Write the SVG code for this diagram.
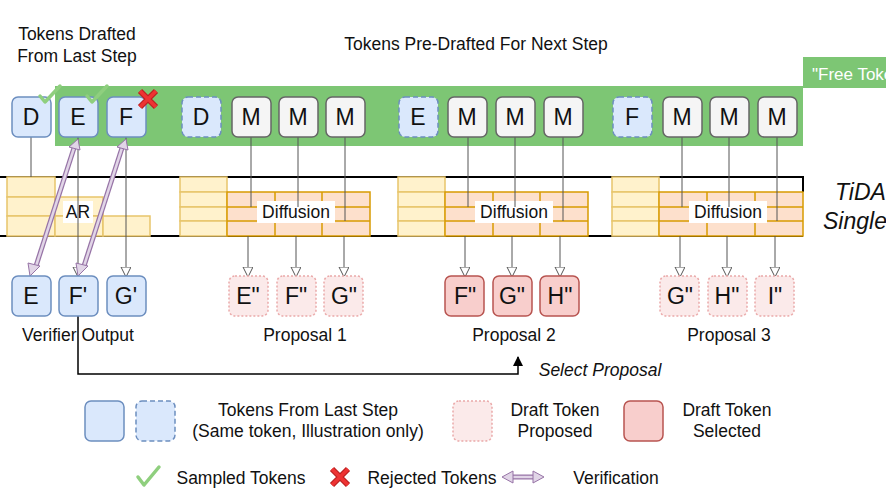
<svg xmlns="http://www.w3.org/2000/svg" width="886" height="499" viewBox="0 0 886 499">
<style>
text{font-family:"Liberation Sans",Arial,sans-serif;fill:#111;text-anchor:middle}
.n{font-size:23px}
.l{font-size:17.5px}
.blue{fill:#dae8fc;stroke:#6c8ebf;stroke-width:1.5}
.dash{fill:#dae8fc;stroke:#6c8ebf;stroke-width:1.5;stroke-dasharray:5 3}
.m{fill:#f5f5f5;stroke:#666;stroke-width:1.5}
.pp{fill:#fbeaea;stroke:#eaa9a9;stroke-width:1.5;stroke-dasharray:2 2}
.red{fill:#f8cecc;stroke:#b85450;stroke-width:1.5}
.y{fill:#fff2cc;stroke:#e8c56b;stroke-width:1.5}
.o{fill:#fde0cc;stroke:#d79b00;stroke-width:1.5}
.c{stroke:#555;stroke-width:1;fill:none}
.v{stroke:#9673a6;stroke-width:5;fill:none}
.vi{stroke:#e1d5e7;stroke-width:2.5;fill:none}
.ck{stroke:#8fcf7e;stroke-width:3.5;fill:none;stroke-linecap:round;stroke-linejoin:round}
</style>
<defs>
<marker id="ah" markerWidth="10" markerHeight="12" refX="9" refY="5" orient="auto" markerUnits="userSpaceOnUse"><path d="M0,0 L10,5 L0,10 Z" fill="#fff" stroke="#555"/></marker>
<marker id="af" markerWidth="10" markerHeight="10" refX="9" refY="5" orient="auto" markerUnits="userSpaceOnUse"><path d="M0,0 L10,5 L0,10 Z" fill="#000"/></marker>
</defs>
<rect width="886" height="499" fill="#fff"/>
<g id="band">
<rect x="55" y="86" width="748" height="60" fill="#7dc674"/>
<rect x="803" y="57" width="83" height="31" fill="#7dc674"/>
<text x="812" y="80" style="text-anchor:start;fill:#fff;font-size:17px">"Free Tokens"</text>
<line x1="0" y1="177" x2="803" y2="177" stroke="#000" stroke-width="2"/>
<line x1="803" y1="176" x2="803" y2="192" stroke="#000" stroke-width="2"/>
<line x1="0" y1="236" x2="803" y2="236" stroke="#000" stroke-width="2"/>
</g>
<g id="titles">
<text class="l" x="77" y="40">Tokens Drafted</text>
<text class="l" x="77" y="62">From Last Step</text>
<text class="l" x="476" y="50">Tokens Pre-Drafted For Next Step</text>
<text x="835" y="200" style="text-anchor:start;font-size:23px;font-style:italic">TiDAR</text>
<text x="823" y="229" style="text-anchor:start;font-size:23px;font-style:italic">Single</text>
</g>
<g id="ar">
<rect class="y" x="7" y="177" width="48" height="20"/><rect class="y" x="7" y="197" width="48" height="19"/><rect class="y" x="7" y="216" width="48" height="20"/>
<rect class="y" x="55" y="197" width="48" height="19"/><rect class="y" x="55" y="216" width="48" height="20"/>
<rect class="y" x="103" y="216" width="47" height="20"/>
<rect x="63" y="201" width="30" height="22" fill="#fff"/>
<text class="l" x="78" y="218">AR</text>
</g>
<g id="diff1"><g transform="translate(0,0)">
<rect class="y" x="180" y="177" width="47" height="15"/><rect class="y" x="180" y="192" width="47" height="15"/><rect class="y" x="180" y="207" width="47" height="14"/><rect class="y" x="180" y="221" width="47" height="15"/>
<rect class="o" x="227" y="192" width="143" height="44"/>
<path d="M227,207H370M227,221H370M275,192V236M322,192V236" stroke="#d79b00" stroke-width="1.5"/>
<rect x="257" y="201" width="78" height="22" fill="#fff"/>
<text class="l" x="296" y="218">Diffusion</text></g></g>
<g id="diff2"><g transform="translate(218,0)">
<rect class="y" x="180" y="177" width="47" height="15"/><rect class="y" x="180" y="192" width="47" height="15"/><rect class="y" x="180" y="207" width="47" height="14"/><rect class="y" x="180" y="221" width="47" height="15"/>
<rect class="o" x="227" y="192" width="143" height="44"/>
<path d="M227,207H370M227,221H370M275,192V236M322,192V236" stroke="#d79b00" stroke-width="1.5"/>
<rect x="257" y="201" width="78" height="22" fill="#fff"/>
<text class="l" x="296" y="218">Diffusion</text></g></g>
<g id="diff3"><g transform="translate(432,0)">
<rect class="y" x="180" y="177" width="47" height="15"/><rect class="y" x="180" y="192" width="47" height="15"/><rect class="y" x="180" y="207" width="47" height="14"/><rect class="y" x="180" y="221" width="47" height="15"/>
<rect class="o" x="227" y="192" width="144" height="44"/>
<path d="M227,207H371M227,221H371M275,192V236M323,192V236" stroke="#d79b00" stroke-width="1.5"/>
<rect x="257" y="201" width="78" height="22" fill="#fff"/>
<text class="l" x="296" y="218">Diffusion</text></g></g>
<g id="connectors">
<path class="c" d="M31,137V177"/>
<path class="c" d="M78,137V276" marker-end="url(#ah)"/>
<path class="c" d="M126,137V276" marker-end="url(#ah)"/>
<path class="c" d="M251,137V207M298,137V207M345,137V221"/>
<path class="c" d="M468,137V207M515,137V207M563,137V221"/>
<path class="c" d="M682,137V207M729,137V207M777,137V221"/>
<path class="c" d="M248,236V276" marker-end="url(#ah)"/><path class="c" d="M296,236V276" marker-end="url(#ah)"/><path class="c" d="M344,236V276" marker-end="url(#ah)"/>
<path class="c" d="M465,236V276" marker-end="url(#ah)"/><path class="c" d="M512,236V276" marker-end="url(#ah)"/><path class="c" d="M560,236V276" marker-end="url(#ah)"/>
<path class="c" d="M680,236V276" marker-end="url(#ah)"/><path class="c" d="M727,236V276" marker-end="url(#ah)"/><path class="c" d="M775,236V276" marker-end="url(#ah)"/>
<path d="M78,316V374H518V357" stroke="#000" stroke-width="1.5" fill="none" marker-end="url(#af)"/>
<line class="v" x1="36" y1="266" x2="74" y2="148"/><line class="vi" x1="36" y1="266" x2="74" y2="148"/>
<path d="M30,276l-2-13 12 3Z M78,139l-9 8 11 3Z" fill="#e1d5e7" stroke="#9673a6"/>
<line class="v" x1="84" y1="266" x2="122" y2="148"/><line class="vi" x1="84" y1="266" x2="122" y2="148"/>
<path d="M78,276l-2-13 12 3Z M126,139l-9 8 11 3Z" fill="#e1d5e7" stroke="#9673a6"/>
</g>
<g id="top-nodes">
<rect class="blue" x="12" y="97" width="39" height="40" rx="6"/><text class="n" x="31" y="125">D</text>
<rect class="blue" x="59" y="97" width="39" height="40" rx="6"/><text class="n" x="78" y="125">E</text>
<rect class="blue" x="107" y="97" width="39" height="40" rx="6"/><text class="n" x="126" y="125">F</text>
<rect class="dash" x="182" y="97" width="39" height="40" rx="6"/><text class="n" x="201" y="125">D</text>
<rect class="m" x="232" y="97" width="39" height="40" rx="6"/><text class="n" x="251" y="125">M</text>
<rect class="m" x="279" y="97" width="39" height="40" rx="6"/><text class="n" x="298" y="125">M</text>
<rect class="m" x="326" y="97" width="39" height="40" rx="6"/><text class="n" x="345" y="125">M</text>
<rect class="dash" x="399" y="97" width="39" height="40" rx="6"/><text class="n" x="418" y="125">E</text>
<rect class="m" x="448" y="97" width="39" height="40" rx="6"/><text class="n" x="467" y="125">M</text>
<rect class="m" x="496" y="97" width="39" height="40" rx="6"/><text class="n" x="515" y="125">M</text>
<rect class="m" x="544" y="97" width="39" height="40" rx="6"/><text class="n" x="563" y="125">M</text>
<rect class="dash" x="613" y="97" width="39" height="40" rx="6"/><text class="n" x="632" y="125">F</text>
<rect class="m" x="663" y="97" width="39" height="40" rx="6"/><text class="n" x="682" y="125">M</text>
<rect class="m" x="710" y="97" width="39" height="40" rx="6"/><text class="n" x="729" y="125">M</text>
<rect class="m" x="758" y="97" width="39" height="40" rx="6"/><text class="n" x="777" y="125">M</text>
<path class="ck" d="M40,96l5,6 15-16"/>
<path class="ck" d="M87,96l5,6 15-16"/>
<path d="M140,91l16,16M156,91l-16,16" stroke="#b22" stroke-width="6"/><path d="M140,91l16,16M156,91l-16,16" stroke="#e33" stroke-width="3.5"/>
</g>
<g id="bottom-nodes">
<rect class="blue" x="12" y="276" width="39" height="40" rx="6"/><text class="n" x="31" y="304">E</text>
<rect class="blue" x="59" y="276" width="39" height="40" rx="6"/><text class="n" x="78" y="304">F'</text>
<rect class="blue" x="107" y="276" width="39" height="40" rx="6"/><text class="n" x="126" y="304">G'</text>
<rect class="pp" x="229" y="276" width="39" height="40" rx="6"/><text class="n" x="248" y="304">E"</text>
<rect class="pp" x="277" y="276" width="39" height="40" rx="6"/><text class="n" x="296" y="304">F"</text>
<rect class="pp" x="324" y="276" width="39" height="40" rx="6"/><text class="n" x="344" y="304">G"</text>
<rect class="red" x="445" y="276" width="39" height="40" rx="6"/><text class="n" x="465" y="304">F"</text>
<rect class="red" x="493" y="276" width="39" height="40" rx="6"/><text class="n" x="512" y="304">G"</text>
<rect class="red" x="540" y="276" width="39" height="40" rx="6"/><text class="n" x="560" y="304">H"</text>
<rect class="pp" x="660" y="276" width="39" height="40" rx="6"/><text class="n" x="680" y="304">G"</text>
<rect class="pp" x="708" y="276" width="39" height="40" rx="6"/><text class="n" x="727" y="304">H"</text>
<rect class="pp" x="755" y="276" width="39" height="40" rx="6"/><text class="n" x="775" y="304">I"</text>
<text class="l" x="78" y="341">Verifier Output</text>
<text class="l" x="305" y="341">Proposal 1</text>
<text class="l" x="514" y="341">Proposal 2</text>
<text class="l" x="729" y="341">Proposal 3</text>
<text class="l" x="600" y="376" style="font-style:italic">Select Proposal</text>
</g>
<g id="legend">
<rect class="blue" x="85" y="401" width="39" height="40" rx="6"/>
<rect class="dash" x="136" y="401" width="39" height="40" rx="6"/>
<text class="l" x="308" y="416">Tokens From Last Step</text>
<text class="l" x="308" y="437">(Same token, Illustration only)</text>
<rect class="pp" x="453" y="401" width="39" height="40" rx="6"/>
<text class="l" x="555" y="416">Draft Token</text><text class="l" x="555" y="437">Proposed</text>
<rect class="red" x="624" y="401" width="39" height="40" rx="6"/>
<text class="l" x="727" y="416">Draft Token</text><text class="l" x="727" y="437">Selected</text>
<path class="ck" d="M138,477l6,8 15-18"/>
<text class="l" x="241" y="484">Sampled Tokens</text>
<path d="M332,469l16,16M348,469l-16,16" stroke="#b22" stroke-width="6"/><path d="M332,469l16,16M348,469l-16,16" stroke="#e33" stroke-width="3.5"/>
<text class="l" x="432" y="484">Rejected Tokens</text>
<line class="v" x1="511" y1="477" x2="535" y2="477"/><line class="vi" x1="511" y1="477" x2="535" y2="477"/>
<path d="M502,477l11-6v12Z M544,477l-11-6v12Z" fill="#e1d5e7" stroke="#9673a6"/>
<text class="l" x="616" y="484">Verification</text>
</g>
</svg>
